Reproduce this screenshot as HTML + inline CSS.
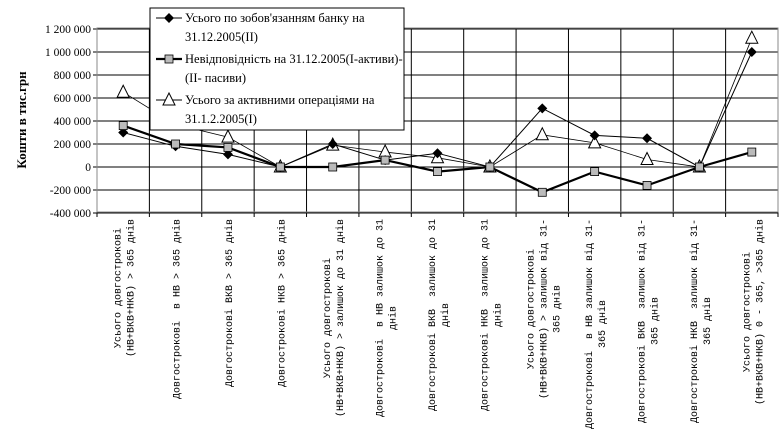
<!DOCTYPE html>
<html><head><meta charset="utf-8"><style>
body{margin:0;background:#fff;width:781px;height:434px;overflow:hidden}
svg{display:block}
</style></head><body>
<svg id="c" width="781" height="434" xmlns="http://www.w3.org/2000/svg"></svg>
<script>
const s=document.getElementById('c');let h='';
const L=97,R=778,T=29,B=212,cw=(R-L)/13;
const y=v=>167-v/200000*23;
// grid
for(let v=-400000;v<=1200000;v+=200000){h+=`<line x1="${L-4}" x2="${R}" y1="${y(v)}" y2="${y(v)}" stroke="#000" stroke-width="1"/>`;
let t=v===0?'0':(v<0?'-':'')+Math.abs(v).toLocaleString('en').replace(/,/g,' ');
h+=`<text x="${L-6}" y="${y(v)+4}" text-anchor="end" font-family="Liberation Serif,serif" font-size="11.5">${t}</text>`;}
for(let i=0;i<=13;i++){const x=L+i*cw;h+=`<line x1="${x}" x2="${x}" y1="${T}" y2="${B+5}" stroke="#000"/>`;}
h+=`<rect x="${L}" y="${T-1}" width="${R-L}" height="${B-T+1}" fill="none" stroke="#888"/>`;
h+=`<text transform="translate(26,120) rotate(-90)" text-anchor="middle" font-family="Liberation Serif,serif" font-weight="bold" font-size="13">Кошти в тис.грн</text>`;
const cx=i=>L+cw/2+i*cw;
const d1=[300000,180000,110000,0,200000,60000,120000,0,510000,275000,250000,0,1000000];
const d2=[360000,200000,170000,0,0,60000,-40000,0,-220000,-40000,-160000,0,130000];
const d3=[650000,370000,260000,0,190000,130000,80000,0,280000,210000,65000,0,1120000];
const pts=d=>d.map((v,i)=>cx(i)+','+y(v)).join(' ');
h+=`<polyline points="${pts(d3)}" fill="none" stroke="#000" stroke-width="0.8"/>`;
h+=`<polyline points="${pts(d1)}" fill="none" stroke="#000" stroke-width="1"/>`;
h+=`<polyline points="${pts(d2)}" fill="none" stroke="#000" stroke-width="2.2"/>`;
d3.forEach((v,i)=>{const X=cx(i),Y=y(v);h+=`<polygon points="${X},${Y-7} ${X-6},${Y+5} ${X+6},${Y+5}" fill="#fff" stroke="#000"/>`});
d1.forEach((v,i)=>{const X=cx(i),Y=y(v);h+=`<polygon points="${X},${Y-5} ${X+5},${Y} ${X},${Y+5} ${X-5},${Y}" fill="#000"/>`});
d2.forEach((v,i)=>{const X=cx(i),Y=y(v);h+=`<rect x="${X-4}" y="${Y-4}" width="8" height="8" fill="#bbb" stroke="#000" stroke-width="0.8"/>`});
// legend
h+=`<rect x="150" y="8" width="254" height="122" fill="#fff" stroke="#000"/>`;
const lg=[['Усього по зобов\'язанням банку на','31.12.2005(II)'],['Невідповідність на 31.12.2005(I-активи)-','(II- пасиви)'],['Усього за активними операціями на','31.1.2.2005(I)']];
lg.forEach((l,k)=>{const Y=22+k*41;h+=`<line x1="156" x2="182" y1="${Y-4}" y2="${Y-4}" stroke="#000" stroke-width="${k==1?2.2:1}"/>`;
if(k==0)h+=`<polygon points="169,${Y-9} 174,${Y-4} 169,${Y+1} 164,${Y-4}" fill="#000"/>`;
if(k==1)h+=`<rect x="165" y="${Y-8}" width="8" height="8" fill="#bbb" stroke="#000" stroke-width="0.8"/>`;
if(k==2)h+=`<polygon points="169,${Y-11} 163,${Y+1} 175,${Y+1}" fill="#fff" stroke="#000"/>`;
h+=`<text x="185" y="${Y}" font-family="Liberation Serif,serif" font-size="12.5">${l[0]}</text><text x="185" y="${Y+19}" font-family="Liberation Serif,serif" font-size="12.5">${l[1]}</text>`;});
// x labels
const lab=[["Усього довгострокові","(НВ+ВКВ+НКВ) > 365 днів"],["Довгострокові  в НВ > 365 днів"],["Довгострокові ВКВ > 365 днів"],["Довгострокові НКВ > 365 днів"],["Усього довгострокові","(НВ+ВКВ+НКВ) > залишок до 31 днів"],["Довгострокові  в НВ залишок до 31","днів"],["Довгострокові ВКВ  залишок до 31","днів"],["Довгострокові НКВ  залишок до 31","днів"],["Усього довгострокові","(НВ+ВКВ+НКВ) > залишок від 31-","365 днів"],["Довгострокові  в НВ залишок від 31-","365 днів"],["Довгострокові ВКВ  залишок від 31-","365 днів"],["Довгострокові НКВ  залишок від 31-","365 днів"],["Усього довгострокові","(НВ+ВКВ+НКВ) 0 - 365, >365 днів"]];
const cwid=6.0;
lab.forEach((ls,i)=>{const mx=Math.max(...ls.map(t=>t.length));const cy=219+mx*cwid/2;const n=ls.length;
ls.forEach((t,j)=>{const X=cx(i)+(j-(n-1)/2)*13+4;h+=`<text transform="translate(${X},${cy}) rotate(-90)" text-anchor="middle" font-family="Liberation Mono,monospace" font-size="10" xml:space="preserve">${t.replace(/>/g,'&gt;')}</text>`;});});
s.innerHTML=h;
</script>
</body></html>
